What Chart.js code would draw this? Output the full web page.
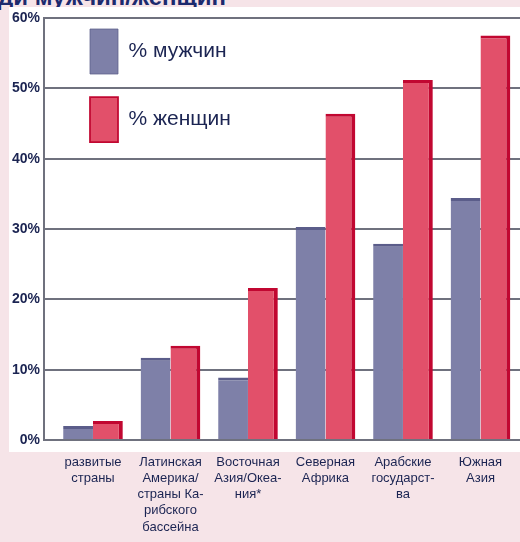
<!DOCTYPE html>
<html lang="ru">
<head>
    <meta charset="UTF-8">
    <title>% мужчин / % женщин</title>
    <script src="https://cdn.jsdelivr.net/npm/chart.js"></script>
    <style>
        body { margin: 0; background: #f6e4e8; width: 520px; height: 542px; overflow: hidden; position: relative; }
        #title { position: absolute; left: -2px; top: -17px; font: bold 24px "Liberation Sans", Arial, sans-serif; color: #1c2a6e; white-space: nowrap; }
        #panel { position: absolute; left: 9px; top: 7px; width: 511px; height: 445px; background: #fff; }
        #wrap { position: absolute; left: 0; top: 0; width: 520px; height: 542px; }
    </style>
</head>
<body>
    <div id="title">ди мужчин/женщин</div>
    <div id="panel"></div>
    <div id="wrap"><canvas id="chart" width="520" height="542"></canvas></div>

    <script>
        // regions (x axis), in %
        const regions = [
            ['развитые', 'страны'],
            ['Латинская', 'Америка/', 'страны Ка-', 'рибского', 'бассейна'],
            ['Восточная', 'Азия/Океа-', 'ния*'],
            ['Северная', 'Африка'],
            ['Арабские', 'государст-', 'ва'],
            ['Южная', 'Азия']
        ];
        const men = [2.0, 11.7, 8.9, 30.3, 27.9, 34.4];
        const women = [2.7, 13.4, 21.6, 46.4, 51.2, 57.5];
        const yTicks = [0, 10, 20, 30, 40, 50, 60];

        const navy = '#1b2452';
        const gridGray = '#6f717e';

        // legend sits inside the plot, nudged to where the original has it
        const legendShift = {
            id: 'legendShift',
            afterLayout(chart) {
                chart.legend.left = 67;
                chart.legend.top = 6;
            }
        };

        new Chart(document.getElementById('chart'), {
            type: 'bar',
            data: {
                datasets: [
                    {
                        label: '% мужчин',
                        data: men.map((v, i) => ({ x: i, y: v })),
                        backgroundColor: '#7e80a8',
                        borderColor: '#5b5d8a',
                        borderWidth: { top: 3, right: 0, bottom: 0, left: 0 },
                        borderSkipped: false
                    },
                    {
                        label: '% женщин',
                        data: women.map((v, i) => ({ x: i, y: v })),
                        backgroundColor: '#e2506a',
                        borderColor: '#c10731',
                        borderWidth: { top: 3, right: 4, bottom: 0, left: 0 },
                        borderSkipped: false
                    }
                ]
            },
            options: {
                responsive: false,
                animation: false,
                devicePixelRatio: 1,
                layout: { padding: { top: 18, right: 0, bottom: 0, left: 0 } },
                datasets: { bar: { categoryPercentage: 0.77, barPercentage: 1 } },
                plugins: {
                    legend: {
                        position: 'chartArea',
                        align: 'start',
                        labels: {
                            boxWidth: 28,
                            boxHeight: 45,
                            padding: 23,
                            color: navy,
                            font: { family: '"Liberation Sans", Arial, sans-serif', size: 21 }
                        }
                    },
                    tooltip: { enabled: false }
                },
                scales: {
                    x: {
                        type: 'linear',
                        min: -0.632,
                        max: 5.51,
                        offset: false,
                        grid: { display: false, offset: false },
                        border: { display: true, color: gridGray, width: 2 },
                        afterFit: (s) => { s.height = 102; },
                        ticks: {
                            stepSize: 1,
                            includeBounds: false,
                            autoSkip: false,
                            maxRotation: 0,
                            minRotation: 0,
                            padding: 6,
                            color: navy,
                            font: { family: '"Liberation Sans", Arial, sans-serif', size: 13, lineHeight: 1.25 },
                            callback: (v) => Number.isInteger(v) && regions[v] ? regions[v] : ''
                        }
                    },
                    y: {
                        min: yTicks[0],
                        max: yTicks[yTicks.length - 1],
                        afterFit: (s) => { s.width = 44; },
                        afterBuildTicks: (s) => { s.ticks = yTicks.map(v => ({ value: v })); },
                        grid: { color: gridGray, lineWidth: 2, drawTicks: false },
                        border: { display: true, color: gridGray, width: 2 },
                        ticks: {
                            padding: 4,
                            color: navy,
                            font: { family: '"Liberation Sans", Arial, sans-serif', size: 14, weight: 'bold' },
                            callback: (v) => v + '%'
                        }
                    }
                }
            },
            plugins: [legendShift]
        });
    </script>
</body>
</html>
